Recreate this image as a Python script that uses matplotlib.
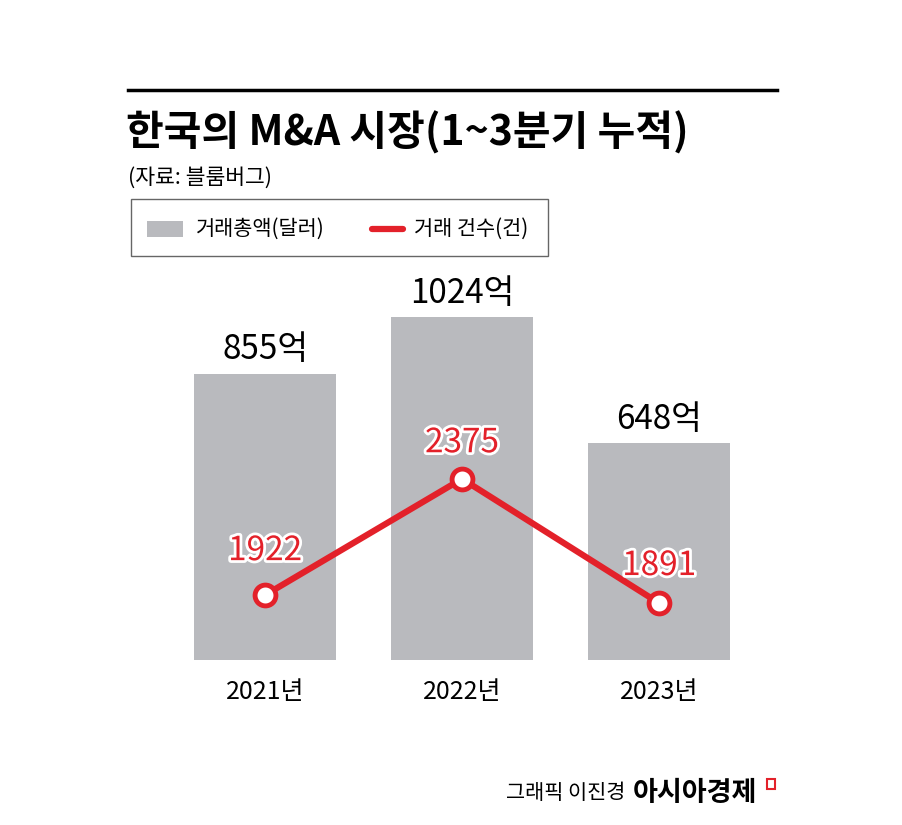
import matplotlib.pyplot as plt
import matplotlib.patheffects as pe
from matplotlib.patches import Rectangle
from matplotlib.lines import Line2D

plt.rcParams['font.family'] = ['Noto Sans CJK KR', 'DejaVu Sans']

years = ['2021년', '2022년', '2023년']
amount = [855, 1024, 648]          # 거래총액 (억 달러)
deals = [1922, 2375, 1891]         # 거래 건수

GRAY = '#b9babe'
RED = '#e3212a'

W, H = 903, 825
fig = plt.figure(figsize=(W / 100, H / 100), dpi=100)

# axes area in pixels: x 150..775, y 260..660
ax = fig.add_axes([150 / W, (H - 660) / H, 625 / W, 400 / H])
xs = list(range(len(years)))
ax.bar(xs, amount, width=0.72, color=GRAY, zorder=1)
ax.set_xlim(-0.584, 2.589)
ax.set_ylim(0, 1194)
for s in ax.spines.values():
    s.set_visible(False)
ax.set_yticks([])
ax.set_xticks(xs)
ax.set_xticklabels(years, fontsize=18)
ax.tick_params(axis='x', length=0, pad=14)

for x, v in zip(xs, amount):
    ax.annotate(f'{v}억', (x, v), xytext=(0, 17), textcoords='offset points',
                ha='center', va='center', fontsize=24, fontweight='medium', color='black')

ax2 = ax.twinx()
ax2.set_ylim(1669, 3228)
for s in ax2.spines.values():
    s.set_visible(False)
ax2.set_yticks([])
ax2.plot(xs, deals, color=RED, lw=4.5, marker='o', ms=15, mfc='white',
         mec=RED, mew=3.5, zorder=3)
offs = [32, 26, 27]
for x, v, o in zip(xs, deals, offs):
    ax2.annotate(f'{v}', (x, v), xytext=(0, o), textcoords='offset points',
                 ha='center', va='center', fontsize=24, fontweight='medium', color=RED,
                 path_effects=[pe.withStroke(linewidth=4, foreground='white')])

# header
fig.add_artist(Line2D([128 / W, 777 / W], [1 - 90 / H, 1 - 90 / H], color='black', lw=2.5))
fig.text(126 / W, 1 - 133 / H, '한국의 M&A 시장(1~3분기 누적)', fontsize=29.5,
         fontweight='bold', ha='left', va='center')
fig.text(128 / W, 1 - 178 / H, '(자료: 블룸버그)', fontsize=15.5, ha='left', va='center')

# legend box
fig.add_artist(Rectangle((131 / W, 1 - 256 / H), 417 / W, 57 / H, transform=fig.transFigure,
                         fill=False, edgecolor='#666666', lw=1))
fig.add_artist(Rectangle((147 / W, 1 - 237 / H), 36 / W, 16 / H, transform=fig.transFigure,
                         color=GRAY, lw=0))
fig.text(196 / W, 1 - 229 / H, '거래총액(달러)', fontsize=15, ha='left', va='center')
fig.add_artist(Line2D([372 / W, 403 / W], [1 - 229 / H, 1 - 229 / H], color=RED, lw=4.5,
                      solid_capstyle='round'))
fig.text(414 / W, 1 - 229 / H, '거래 건수(건)', fontsize=15, ha='left', va='center')

# footer
fig.text(625 / W, 1 - 793 / H, '그래픽 이진경', fontsize=15, ha='right', va='center')
fig.text(633 / W, 1 - 793 / H, '아시아경제', fontsize=19.5, fontweight='bold',
         ha='left', va='center')
fig.add_artist(Rectangle((767 / W, 1 - 789 / H), 8 / W, 10 / H, transform=fig.transFigure,
                         fill=False, edgecolor=RED, lw=1.5))

fig.savefig('out.png', dpi=100)
